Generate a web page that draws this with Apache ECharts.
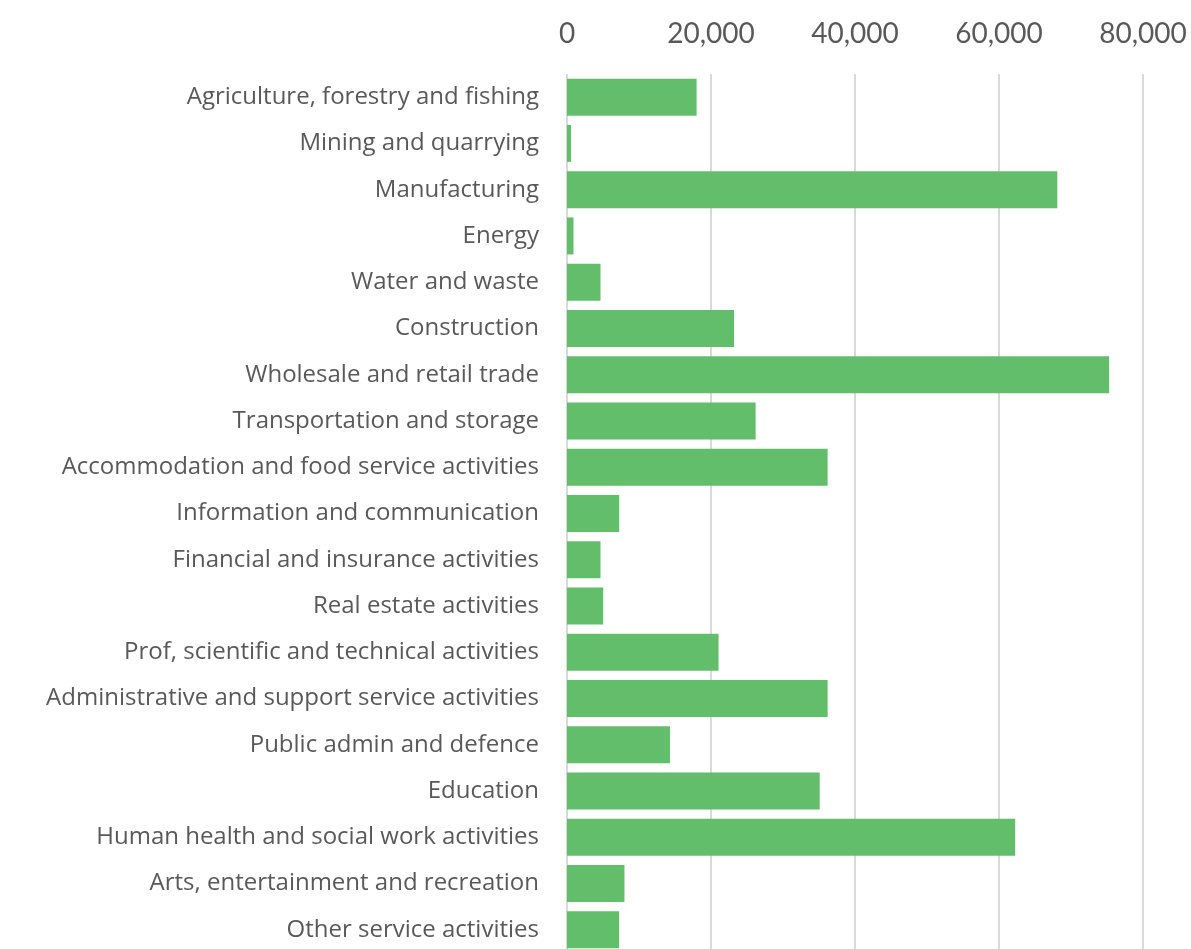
<!DOCTYPE html>
<html>
<head>
<meta charset="utf-8">
<script src="https://cdn.jsdelivr.net/npm/echarts@6/dist/echarts.min.js"></script>
<style>
  html, body { margin: 0; padding: 0; background: #fff; overflow: hidden; }
  #chart { width: 1191px; height: 953px; }
</style>
</head>
<body>
<div id="chart"></div>
<script>
const industries = [
  'Agriculture, forestry and fishing',
  'Mining and quarrying',
  'Manufacturing',
  'Energy',
  'Water and waste',
  'Construction',
  'Wholesale and retail trade',
  'Transportation and storage',
  'Accommodation and food service activities',
  'Information and communication',
  'Financial and insurance activities',
  'Real estate activities',
  'Prof, scientific and technical activities',
  'Administrative and support service activities',
  'Public admin and defence',
  'Education',
  'Human health and social work activities',
  'Arts, entertainment and recreation',
  'Other service activities'
]

const counts = [
  18000, 560, 68100, 900, 4650, 23200, 75300, 26200, 36200, 7250,
  4650, 5030, 21050, 36200, 14300, 35100, 62250, 7980, 7240
]

const valueTicks = [0, 20000, 40000, 60000, 80000]

const labelColor = '#595959'
const gridColor = '#d9d9d9'
const barColor = '#63be6b'

const chart = echarts.init(document.getElementById('chart'))

chart.setOption({
  animation: false,
  grid: {
    left: 567,
    right: 48,
    top: 74,
    bottom: 0
  },
  xAxis: {
    type: 'value',
    position: 'top',
    min: valueTicks[0],
    max: valueTicks[valueTicks.length - 1],
    interval: valueTicks[1] - valueTicks[0],
    axisLine: { show: false },
    axisTick: { show: false },
    axisLabel: {
      color: labelColor,
      fontFamily: 'Lato',
      fontSize: 28,
      margin: 26,
      formatter: (v) => v.toLocaleString('en-US')
    },
    splitLine: {
      show: true,
      lineStyle: { color: gridColor, width: 2 }
    }
  },
  yAxis: {
    type: 'category',
    inverse: true,
    data: industries,
    axisLine: { show: false },
    axisTick: { show: false },
    axisLabel: {
      color: labelColor,
      fontFamily: 'Open Sans',
      fontSize: 24,
      margin: 28,
      padding: [2, 0, 0, 0]
    }
  },
  series: [
    {
      type: 'bar',
      data: counts,
      barCategoryGap: '20%',
      itemStyle: { color: barColor }
    }
  ]
})
</script>
</body>
</html>
